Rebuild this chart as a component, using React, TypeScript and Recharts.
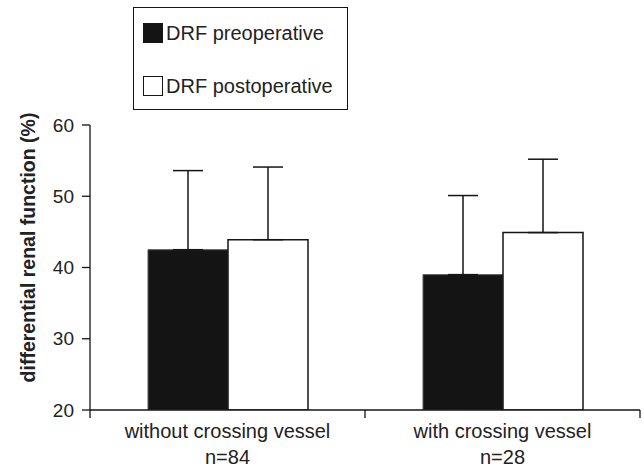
import React from 'react';
import { BarChart, Bar, XAxis, YAxis, ErrorBar } from 'recharts';

const categories = ['without crossing vessel', 'with crossing vessel'];
const groupSizes = ['n=84', 'n=28'];
const preValues = [42.5, 39.0];
const preSd = [11.1, 11.1];
const postValues = [43.9, 44.9];
const postSd = [10.2, 10.3];
const yTicks = [20, 30, 40, 50, 60];
const seriesNames = ['DRF preoperative', 'DRF postoperative'];

const W = 644;
const H = 469;
const FONT = 'Arial, "Liberation Sans", Helvetica, sans-serif';
const INK = '#141414';

const data = categories.map((name, i) => ({
  name,
  n: groupSizes[i],
  pre: preValues[i],
  preErr: [0, preSd[i]],
  post: postValues[i],
  postErr: [0, postSd[i]],
}));

const PLOT_LEFT = 90;
const PLOT_RIGHT = 4;
const bandWidth = (W - PLOT_LEFT - PLOT_RIGHT) / categories.length;

const CategoryTick = (props: any) => {
  const { x, y, payload, index } = props;
  const item = data[index] || data.find((d) => d.name === payload.value);
  return (
    <g>
      <line x1={x + bandWidth / 2} y1={y} x2={x + bandWidth / 2} y2={y + 8} stroke={INK} strokeWidth={1.3} />
      {index === 0 && (
        <line x1={x - bandWidth / 2} y1={y} x2={x - bandWidth / 2} y2={y + 8} stroke={INK} strokeWidth={1.3} />
      )}
      <text x={x} y={y + 21} textAnchor="middle" dominantBaseline="central" fontSize={20} fill="#222" fontFamily={FONT}>
        {payload.value}
      </text>
      <text x={x} y={y + 47} textAnchor="middle" dominantBaseline="central" fontSize={20} fill="#222" fontFamily={FONT}>
        {item ? item.n : ''}
      </text>
    </g>
  );
};

const YLabel = (props: any) => {
  const { viewBox } = props;
  const cx = 28;
  const cy = viewBox.y + viewBox.height / 2 - 20;
  return (
    <text
      x={cx}
      y={cy}
      transform={`rotate(-90 ${cx} ${cy})`}
      textAnchor="middle"
      dominantBaseline="central"
      fontSize={19.5}
      fontWeight="bold"
      fill="#222"
      fontFamily={FONT}
    >
      differential renal function (%)
    </text>
  );
};

const LegendBox = () => (
  <div
    style={{
      position: 'absolute',
      left: 133,
      top: 7,
      width: 215,
      height: 103,
      border: `1.3px solid ${INK}`,
      boxSizing: 'border-box',
      fontFamily: FONT,
      fontSize: 20,
      color: '#222',
    }}
  >
    {seriesNames.map((name, i) => (
      <div
        key={name}
        style={{ position: 'absolute', left: 9, top: i === 0 ? 15 : 68, display: 'flex', alignItems: 'center', height: 20 }}
      >
        <span
          style={{
            display: 'inline-block',
            width: 20,
            height: 20,
            boxSizing: 'border-box',
            background: i === 0 ? INK : '#fff',
            border: `1.3px solid ${INK}`,
            marginRight: 3,
          }}
        />
        <span style={{ whiteSpace: 'nowrap' }}>{name}</span>
      </div>
    ))}
  </div>
);

export default function App() {
  return (
    <div style={{ position: 'absolute', left: 0, top: 0, width: W, height: H, background: '#fff' }}>
      <BarChart
        width={W}
        height={H}
        data={data}
        margin={{ top: 125, right: PLOT_RIGHT, bottom: 0, left: 0 }}
        barGap={0}
        barSize={80}
      >
        <XAxis
          dataKey="name"
          axisLine={{ stroke: INK, strokeWidth: 1.3 }}
          tickLine={false}
          tickSize={0}
          tickMargin={0}
          tick={<CategoryTick />}
          interval={0}
          height={59}
        />
        <YAxis
          width={PLOT_LEFT}
          domain={[20, 60]}
          ticks={yTicks}
          allowDataOverflow
          axisLine={{ stroke: INK, strokeWidth: 1.3 }}
          tickLine={{ stroke: INK, strokeWidth: 1.3 }}
          tickSize={8}
          tickMargin={8}
          tick={{ fontSize: 19, fill: '#222', fontFamily: FONT }}
          label={<YLabel />}
        />
        <Bar dataKey="pre" name={seriesNames[0]} fill={INK} stroke="#555" strokeWidth={1} isAnimationActive={false}>
          <ErrorBar dataKey="preErr" direction="y" width={15} stroke={INK} strokeWidth={1.5} />
        </Bar>
        <Bar dataKey="post" name={seriesNames[1]} fill="#fff" stroke={INK} strokeWidth={1.5} isAnimationActive={false}>
          <ErrorBar dataKey="postErr" direction="y" width={15} stroke={INK} strokeWidth={1.5} />
        </Bar>
      </BarChart>
      <LegendBox />
    </div>
  );
}
